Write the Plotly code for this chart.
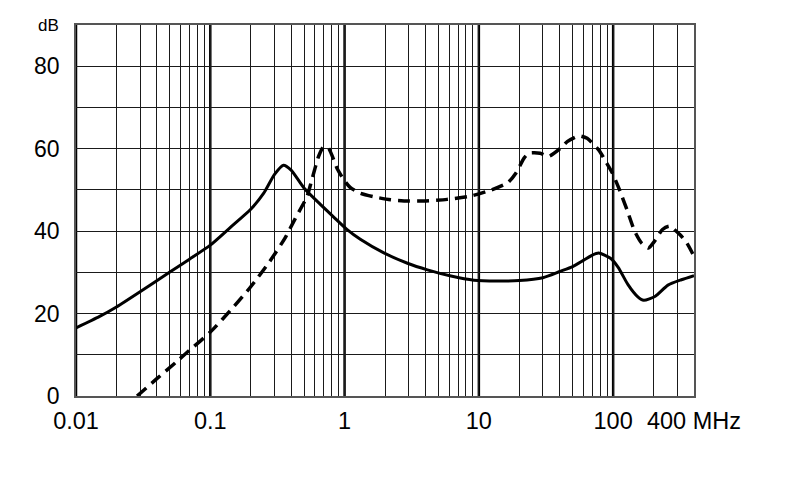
import plotly.graph_objects as go

# Data (frequency in MHz, attenuation in dB)
solid_f = [0.01, 0.015, 0.02, 0.03, 0.05, 0.07, 0.1, 0.14, 0.2, 0.25, 0.3, 0.35, 0.4, 0.5, 0.66, 0.83, 1.04, 1.31, 1.96, 2.94, 4.14, 6.2, 9.2, 13.7, 20, 30, 40, 50, 60, 70, 78, 95.5, 109, 129, 152, 169, 206, 256, 322, 400]
solid_db = [16.5, 19.3, 21.6, 25.3, 30.1, 33.2, 36.6, 40.8, 45.3, 49.2, 53.7, 56.0, 54.8, 50.4, 46.5, 43.4, 40.4, 38.0, 34.7, 32.2, 30.6, 29.1, 28.1, 27.9, 28.0, 28.7, 30.2, 31.4, 32.9, 34.2, 34.7, 33.4, 31.2, 27.0, 24.1, 23.2, 24.2, 26.9, 28.2, 29.2]

dash_f = [0.0285, 0.04, 0.056, 0.07, 0.1, 0.15, 0.2, 0.275, 0.36, 0.43, 0.525, 0.57, 0.64, 0.70, 0.76, 0.88, 0.98, 1.1, 1.3, 1.66, 2.2, 3.0, 3.87, 5.8, 8.7, 12.4, 16.5, 18.9, 21.7, 23.6, 28.6, 33, 40.6, 45.5, 55.6, 64, 78, 88, 98.6, 110, 127, 145, 163, 183, 206, 233, 262, 315, 354, 400]
dash_db = [0.0, 4.2, 8.3, 11.1, 15.5, 21.7, 26.5, 32.5, 38.3, 43.1, 48.4, 52.4, 58.1, 60.5, 60.1, 55.2, 52.6, 50.6, 49.2, 48.3, 47.6, 47.3, 47.3, 47.7, 48.5, 50.0, 51.8, 54.1, 57.7, 58.9, 58.9, 58.1, 60.1, 61.7, 63.1, 62.5, 59.7, 56.9, 54.1, 50.5, 45.1, 39.9, 37.1, 35.9, 37.8, 40.4, 41.2, 39.1, 37.1, 33.9]

decades = [0.01, 0.1, 1, 10, 100]
x_grid = [m * d for d in [0.01, 0.1, 1, 10] for m in range(1, 10)] + [100, 200, 300, 400]
x_labels = {0.01: "0.01", 0.1: "0.1", 1: "1", 10: "10", 100: "100", 400: "400 MHz"}
y_grid = [0, 10, 20, 30, 40, 50, 60, 70, 80, 90]
y_labels = {0: "0", 20: "20", 40: "40", 60: "60", 80: "80"}

font = "Liberation Sans, Arial, sans-serif"

fig = go.Figure()
fig.add_trace(go.Scatter(x=solid_f, y=solid_db, mode="lines",
                         line=dict(color="black", width=3, shape="spline", smoothing=0.6),
                         showlegend=False, hoverinfo="skip"))
fig.add_trace(go.Scatter(x=dash_f, y=dash_db, mode="lines",
                         line=dict(color="black", width=3.5, dash="12px,7px", shape="spline", smoothing=0.6),
                         showlegend=False, hoverinfo="skip"))

for d in decades:
    fig.add_shape(type="line", xref="x", yref="paper", x0=d, x1=d, y0=0, y1=1,
                  line=dict(color="black", width=2.5), layer="below")

fig.update_layout(
    width=790, height=489,
    margin=dict(l=76, r=96, t=25, b=93),
    paper_bgcolor="white", plot_bgcolor="white",
    xaxis=dict(type="log", range=[-2, 2.60206], tickmode="array",
               tickvals=x_grid, ticktext=[x_labels.get(v, "") for v in x_grid],
               showgrid=True, gridcolor="#1a1a1a", gridwidth=1,
               ticks="", ticklabelstandoff=3,
               tickfont=dict(family=font, size=23.5, color="black"),
               showline=True, linecolor="#555", linewidth=1.5, mirror=True,
               zeroline=False, fixedrange=True),
    yaxis=dict(range=[0, 90], tickmode="array",
               tickvals=y_grid, ticktext=[y_labels.get(v, "") for v in y_grid],
               showgrid=True, gridcolor="#1a1a1a", gridwidth=1,
               ticks="", ticklabelstandoff=10,
               tickfont=dict(family=font, size=23, color="black"),
               showline=True, linecolor="#555", linewidth=1.5, mirror=True,
               zeroline=False, fixedrange=True),
    annotations=[dict(text="dB", xref="paper", yref="y", x=0, y=90,
                      xanchor="right", yanchor="middle", xshift=-15, showarrow=False,
                      font=dict(family=font, size=17, color="black"))],
)

fig.write_html("out.html", config={"displayModeBar": False},
               post_script="document.body.style.margin='0';document.body.style.padding='0';")
